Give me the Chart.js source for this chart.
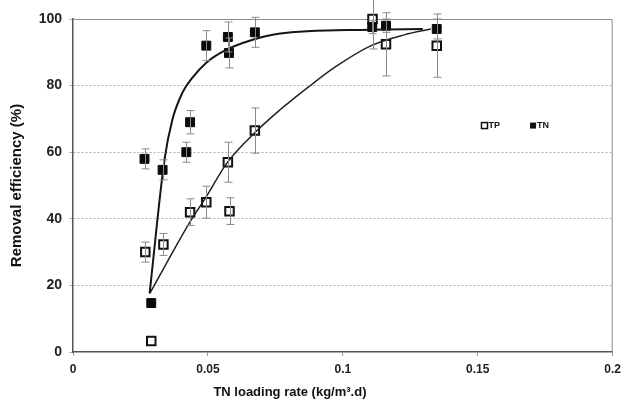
<!doctype html>
<html lang="en">
<head>
    <meta charset="UTF-8">
    <title>Removal efficiency</title>
    <style>
        * { margin: 0; padding: 0; box-sizing: border-box; }
        body { background: #fff; }
        #chart { display: block; }
    </style>
</head>
<body>

<canvas id="chart" width="627" height="408"></canvas>

<script src="https://cdn.jsdelivr.net/npm/chart.js"></script>

<script>
    // measured points
    const tpX = [0.0268, 0.029, 0.0335, 0.0434, 0.0494, 0.0574, 0.058, 0.0674, 0.111, 0.116, 0.1348];
    const tpY = [30, 3.3, 32.3, 42, 45, 57, 42.3, 66.5, 100, 92.4, 92];
    const tpErr = [3, 0, 3.3, 4, 4.8, 6, 4, 6.8, 9, 9.5, 9.5];

    const tnX = [0.0265, 0.029, 0.0332, 0.042, 0.0434, 0.0494, 0.0574, 0.0578, 0.0674, 0.1109, 0.116, 0.1348];
    const tnY = [58, 14.7, 54.7, 60, 69, 92, 94.6, 89.8, 96, 97.6, 98, 97];
    const tnErr = [3, 0, 3, 3, 3.5, 4.5, 4.5, 4.5, 4.5, 2, 2, 3];

    // fitted curves
    const tnFitX = [0.0284, 0.0339, 0.0368, 0.0405, 0.0442, 0.0493, 0.0567, 0.0663, 0.0762, 0.11, 0.1296];
    const tnFitY = [17.7, 57.7, 69.7, 77.8, 82.3, 86.8, 90.7, 93.7, 95.6, 96.8, 97];
    const tpFitX = [0.0284, 0.0431, 0.0493, 0.0571, 0.0678, 0.0751, 0.0873, 0.0972, 0.1105, 0.123, 0.1326];
    const tpFitY = [17.5, 38.7, 46.5, 56.8, 66.2, 71.6, 79.6, 85.6, 92, 95.3, 97];

    const xTicks = [0, 0.05, 0.1, 0.15, 0.2];
    const yTicks = [0, 20, 40, 60, 80, 100];

    const pts = (xs, ys) => xs.map((x, i) => ({x: x, y: ys[i]}));

    const FONT = '"Liberation Sans", Arial, sans-serif';

    const errorBars = {
        id: 'errorBars',
        beforeDatasetsDraw(chart) {
            // frame on top and right
            const a = chart.chartArea, ctx = chart.ctx;
            ctx.save();
            ctx.strokeStyle = '#8c8c8c';
            ctx.lineWidth = 1;
            ctx.beginPath();
            ctx.moveTo(a.left, a.top + 0.5);
            ctx.lineTo(a.right - 0.5, a.top + 0.5);
            ctx.lineTo(a.right - 0.5, a.bottom);
            ctx.stroke();
            ctx.restore();
        },
        afterDatasetsDraw(chart) {
            const ctx = chart.ctx;
            const xs = chart.scales.x, ys = chart.scales.y;
            ctx.save();
            ctx.strokeStyle = '#8a8a8a';
            ctx.lineWidth = 1;
            [[tpX, tpY, tpErr], [tnX, tnY, tnErr]].forEach(([X, Y, E]) => {
                X.forEach((x, i) => {
                    if (!E[i]) return;
                    const px = Math.round(xs.getPixelForValue(x)) + 0.5;
                    const top = ys.getPixelForValue(Y[i] + E[i]);
                    const bot = ys.getPixelForValue(Y[i] - E[i]);
                    ctx.beginPath();
                    ctx.moveTo(px, top); ctx.lineTo(px, bot);
                    ctx.moveTo(px - 4, top); ctx.lineTo(px + 4, top);
                    ctx.moveTo(px - 4, bot); ctx.lineTo(px + 4, bot);
                    ctx.stroke();
                });
            });
            ctx.restore();
        }
    };

    const legendInside = {
        id: 'legendInside',
        afterDraw(chart) {
            const ctx = chart.ctx;
            const xs = chart.scales.x, ys = chart.scales.y;
            const a = chart.chartArea;
            const py = ys.getPixelForValue(68);
            ctx.save();
            ctx.font = 'bold 9px ' + FONT;
            ctx.textBaseline = 'middle';
            ctx.fillStyle = '#111';
            let px = xs.getPixelForValue(0.1525);
            ctx.strokeStyle = '#111';
            ctx.lineWidth = 1.5;
            ctx.strokeRect(px - 3, py - 3, 6, 6);
            ctx.fillText('TP', px + 4, py);
            px = xs.getPixelForValue(0.1705);
            ctx.fillRect(px - 3, py - 3, 6, 6);
            ctx.fillText('TN', px + 4, py);

            // x axis title, sits left of centre in the original
            ctx.font = 'bold 13px ' + FONT;
            ctx.textAlign = 'center';
            ctx.fillText('TN loading rate (kg/m³.d)', a.left + (a.right - a.left) * 0.402, a.bottom + 40);
            ctx.restore();
        }
    };

    const config = {
        type: 'scatter',
        data: {
            datasets: [
                {
                    label: 'TN fit',
                    data: pts(tnFitX, tnFitY),
                    showLine: true,
                    pointRadius: 0,
                    borderColor: '#151515',
                    borderWidth: 2,
                    cubicInterpolationMode: 'monotone'
                },
                {
                    label: 'TP fit',
                    data: pts(tpFitX, tpFitY),
                    showLine: true,
                    pointRadius: 0,
                    borderColor: '#222',
                    borderWidth: 1.5,
                    cubicInterpolationMode: 'monotone'
                },
                {
                    label: 'TN',
                    data: pts(tnX, tnY),
                    pointStyle: 'rect',
                    pointRadius: 6.3,
                    backgroundColor: '#0a0a0a',
                    borderColor: '#0a0a0a',
                    borderWidth: 1,
                    clip: false
                },
                {
                    label: 'TP',
                    data: pts(tpX, tpY),
                    pointStyle: 'rect',
                    pointRadius: 6,
                    backgroundColor: '#fff',
                    borderColor: '#111',
                    borderWidth: 2,
                    clip: false
                }
            ]
        },
        options: {
            responsive: false,
            animation: false,
            layout: { padding: { top: 19, right: 11, left: 0, bottom: 0 } },
            plugins: {
                legend: { display: false },
                tooltip: { enabled: false }
            },
            scales: {
                x: {
                    type: 'linear',
                    min: 0, max: 0.2,
                    afterBuildTicks: s => { s.ticks = xTicks.map(v => ({value: v})); },
                    afterFit: s => { s.height = 56; },
                    grid: { drawOnChartArea: false, tickLength: 4, tickColor: '#9a9a9a' },
                    border: { color: '#555', width: 1.5 },
                    ticks: {
                        color: '#222',
                        font: { family: FONT, size: 12, weight: 'bold' },
                        padding: 6,
                        maxRotation: 0,
                        callback: v => String(+v.toFixed(2))
                    }
                },
                y: {
                    min: 0, max: 100,
                    afterBuildTicks: s => { s.ticks = yTicks.map(v => ({value: v})); },
                    afterFit: s => { s.width = 73; },
                    grid: {
                        color: c => (c.tick.value === 0 || c.tick.value === 100) ? 'rgba(0,0,0,0)' : '#b0b0b0',
                        lineWidth: 1,
                        tickLength: 4,
                        tickColor: '#b0b0b0'
                    },
                    border: { color: '#555', width: 1.5, dash: [2, 2] },
                    ticks: {
                        color: '#222',
                        font: { family: FONT, size: 14, weight: 'bold' },
                        padding: 7
                    },
                    title: {
                        display: true,
                        text: 'Removal efficiency (%)',
                        color: '#111',
                        font: { family: FONT, size: 15, weight: 'bold' },
                        padding: { top: 8, bottom: 4 }
                    }
                }
            }
        },
        plugins: [errorBars, legendInside]
    };

    const chart = new Chart(document.getElementById('chart'), config);
</script>

</body>
</html>
